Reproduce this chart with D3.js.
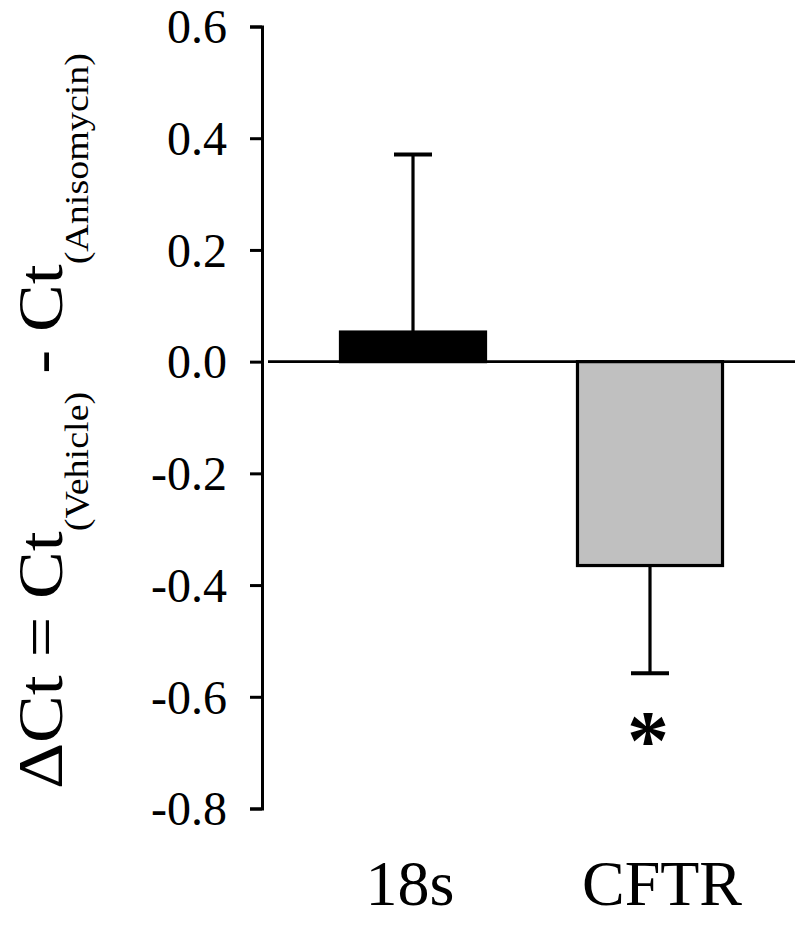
<!DOCTYPE html>
<html>
<head>
<meta charset="utf-8">
<script src="https://cdn.jsdelivr.net/npm/d3@7"></script>
<style>
  body { margin: 0; background: #fff; }
  text { font-family: "Liberation Serif", "Times New Roman", serif; fill: #000; }
</style>
</head>
<body>
<div id="chart"></div>
<script>
// data
var genes = ["18s", "CFTR"];
var means = [0.053, -0.365];
var errors = [0.318, -0.193];   // one-sided error, drawn away from zero
var fills = ["#000000", "#c0c0c0"];
var signif = ["", "*"];
var yTicks = [0.6, 0.4, 0.2, 0.0, -0.2, -0.4, -0.6, -0.8];

var width = 797, height = 927;
var axisX = 262;

var svg = d3.select("#chart").append("svg")
    .attr("width", width)
    .attr("height", height);

var yScale = d3.scaleLinear().domain([-0.8, 0.6]).range([808.5, 26.5]);

var xScale = d3.scaleBand()
    .domain(genes)
    .range([265, 798])
    .paddingInner(0.388)
    .paddingOuter(0.3185);

// y axis
var yAxis = d3.axisLeft(yScale)
    .tickValues(yTicks)
    .tickFormat(d3.format(".1f"))
    .tickSize(12)
    .tickPadding(23);

var gy = svg.append("g")
    .attr("class", "y axis")
    .attr("transform", "translate(" + axisX + ",0)")
    .call(yAxis);

gy.selectAll("path, line").attr("stroke", "#000").attr("stroke-width", 3);
gy.selectAll("text")
    .style("font-size", "48px")
    .attr("dy", "0.34em")
    .text(function(d) { return d3.format(".1f")(d).replace("−", "-"); });

// zero line
svg.append("line")
    .attr("x1", 268).attr("x2", 795)
    .attr("y1", yScale(0)).attr("y2", yScale(0))
    .attr("stroke", "#000").attr("stroke-width", 2.8);

var rows = genes.map(function(g, i) {
    return { gene: g, mean: means[i], err: errors[i], fill: fills[i], sig: signif[i] };
});

// error bars (behind bars)
var eb = svg.append("g").attr("class", "errors");
eb.selectAll("line.stem").data(rows).enter().append("line")
    .attr("x1", function(d) { return xScale(d.gene) + xScale.bandwidth() / 2; })
    .attr("x2", function(d) { return xScale(d.gene) + xScale.bandwidth() / 2; })
    .attr("y1", function(d) { return yScale(d.mean); })
    .attr("y2", function(d) { return yScale(d.mean + d.err); })
    .attr("stroke", "#000").attr("stroke-width", 3.2);
eb.selectAll("line.cap").data(rows).enter().append("line")
    .attr("x1", function(d) { return xScale(d.gene) + xScale.bandwidth() / 2 - 19; })
    .attr("x2", function(d) { return xScale(d.gene) + xScale.bandwidth() / 2 + 19; })
    .attr("y1", function(d) { return yScale(d.mean + d.err); })
    .attr("y2", function(d) { return yScale(d.mean + d.err); })
    .attr("stroke", "#000").attr("stroke-width", 4);

// bars
svg.append("g").attr("class", "bars")
    .selectAll("rect").data(rows).enter().append("rect")
    .attr("x", function(d) { return xScale(d.gene); })
    .attr("width", xScale.bandwidth())
    .attr("y", function(d) { return yScale(Math.max(0, d.mean)); })
    .attr("height", function(d) { return Math.abs(yScale(d.mean) - yScale(0)); })
    .attr("fill", function(d) { return d.fill; })
    .attr("stroke", "#000").attr("stroke-width", 3.2);

// significance marks
svg.append("g").selectAll("text").data(rows.filter(function(d) { return d.sig; }))
    .enter().append("text")
    .attr("x", function(d) { return xScale(d.gene) + xScale.bandwidth() / 2 - 2; })
    .attr("y", function(d) { return yScale(d.mean + d.err) + 96; })
    .attr("text-anchor", "middle")
    .style("font-size", "84px")
    .style("font-weight", "bold")
    .text(function(d) { return d.sig; });

// category labels
svg.append("g").selectAll("text").data(genes).enter().append("text")
    .attr("x", function(d) { return xScale(d) + xScale.bandwidth() / 2 + (d === "CFTR" ? 12 : -3); })
    .attr("y", 905)
    .attr("text-anchor", "middle")
    .style("font-size", "64px")
    .text(function(d) { return d; });

// y axis title (stretched along its length like the original)
var title = svg.append("text")
    .attr("transform", "translate(62,421) rotate(-90) scale(1.12,1)")
    .attr("text-anchor", "middle")
    .style("font-size", "64px");
title.append("tspan").text("\u0394Ct = Ct");
title.append("tspan").attr("dy", 26).style("font-size", "34px").text("(Vehicle)");
title.append("tspan").attr("dy", -26).text(" - Ct");
title.append("tspan").attr("dy", 26).style("font-size", "34px").text("(Anisomycin)");
</script>
</body>
</html>
